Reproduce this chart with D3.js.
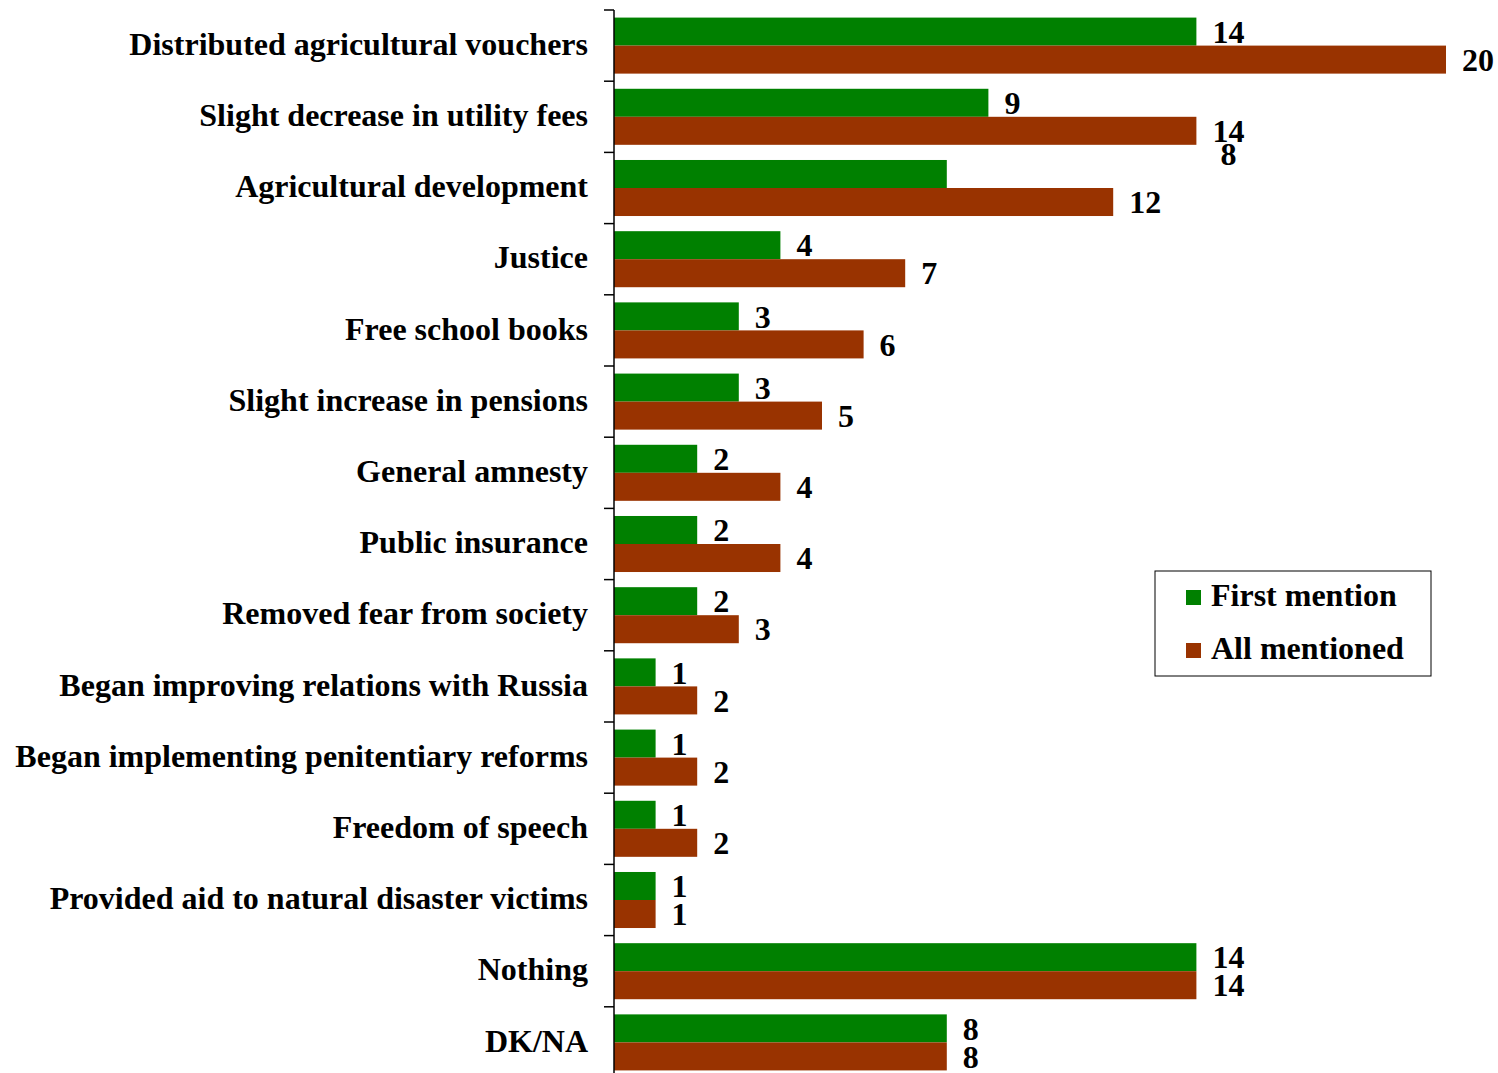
<!DOCTYPE html>
<html>
<head>
<meta charset="utf-8">
<script src="https://cdn.jsdelivr.net/npm/d3@7"></script>
<style>
  html, body { margin: 0; padding: 0; background: #fff; }
  svg { display: block; }
  text { font-family: "Liberation Serif", "Times New Roman", serif; font-weight: bold; fill: #000; }
</style>
</head>
<body>
<script>
const categories = [
  "Distributed agricultural vouchers",
  "Slight decrease in utility fees",
  "Agricultural development",
  "Justice",
  "Free school books",
  "Slight increase in pensions",
  "General amnesty",
  "Public insurance",
  "Removed fear from society",
  "Began improving relations with Russia",
  "Began implementing penitentiary reforms",
  "Freedom of speech",
  "Provided aid to natural disaster victims",
  "Nothing",
  "DK/NA"
];
const seriesNames = ["First mention", "All mentioned"];
const firstMention = [14, 9, 8, 4, 3, 3, 2, 2, 2, 1, 1, 1, 1, 14, 8];
const allMentioned = [20, 14, 12, 7, 6, 5, 4, 4, 3, 2, 2, 2, 1, 14, 8];
const seriesColors = ["#008000", "#993300"];
// In the original, the "8" label of "Agricultural development" (First mention)
// is drawn displaced next to the label of value 14 above it.
const displacedLabel = { category: "Agricultural development", series: 0, anchorValue: 14 };

const W = 1498, H = 1073;
const svg = d3.select("body").append("svg").attr("width", W).attr("height", H);

const x = d3.scaleLinear().domain([0, 20]).range([614, 1446]);
const y = d3.scaleBand().domain(categories).range([10, 1078])
  .paddingInner(0.213).paddingOuter(0.1065);
const ySub = d3.scaleBand().domain([0, 1]).range([0, y.bandwidth()]);

const data = categories.map((c, i) => ({ c, vals: [firstMention[i], allMentioned[i]] }));

// bars
const g = svg.append("g");
data.forEach(d => {
  d.vals.forEach((v, s) => {
    g.append("rect")
      .attr("x", x(0))
      .attr("y", y(d.c) + ySub(s))
      .attr("width", x(v) - x(0))
      .attr("height", ySub.bandwidth())
      .attr("fill", seriesColors[s]);
  });
});

// value labels
data.forEach(d => {
  d.vals.forEach((v, s) => {
    let lx = x(v) + 16;
    let ly = y(d.c) + ySub(s) + ySub.bandwidth() / 2;
    let anchor = "start";
    if (d.c === displacedLabel.category && s === displacedLabel.series) {
      lx = x(displacedLabel.anchorValue) + 32;
      ly = y(d.c) - 6;
      anchor = "middle";
    }
    svg.append("text")
      .attr("x", lx).attr("y", ly)
      .attr("dy", "0.35em")
      .attr("text-anchor", anchor)
      .attr("font-size", 32)
      .text(v);
  });
});

// axis line and ticks at band boundaries
const step = y.step();
const y0 = y.range()[0];
svg.append("line")
  .attr("x1", x(0)).attr("x2", x(0))
  .attr("y1", y0).attr("y2", y0 + step * categories.length)
  .attr("stroke", "#000").attr("stroke-width", 1.5);
d3.range(categories.length + 1).forEach(i => {
  svg.append("line")
    .attr("x1", x(0) - 10).attr("x2", x(0))
    .attr("y1", y0 + i * step).attr("y2", y0 + i * step)
    .attr("stroke", "#000").attr("stroke-width", 1.5);
});

// category labels
data.forEach(d => {
  svg.append("text")
    .attr("x", 588)
    .attr("y", y(d.c) + y.bandwidth() / 2 - 2)
    .attr("dy", "0.35em")
    .attr("text-anchor", "end")
    .attr("font-size", 32)
    .text(d.c);
});

// legend
const lg = svg.append("g");
lg.append("rect").attr("x", 1155).attr("y", 571).attr("width", 276).attr("height", 105)
  .attr("fill", "#fff").attr("stroke", "#000").attr("stroke-width", 1);
seriesNames.forEach((n, i) => {
  lg.append("rect").attr("x", 1186).attr("y", 590 + i * 53).attr("width", 15).attr("height", 15)
    .attr("fill", seriesColors[i]);
  lg.append("text").attr("x", 1211).attr("y", 606 + i * 53)
    .attr("font-size", 32).text(n);
});
</script>
</body>
</html>
